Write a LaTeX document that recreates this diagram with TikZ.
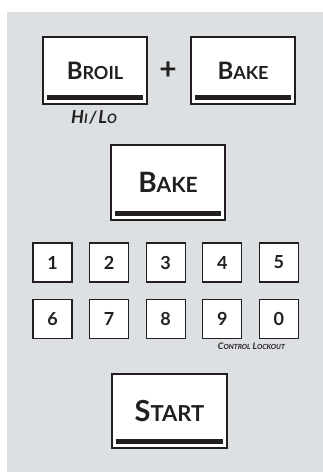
\documentclass[tikz,border=0pt]{standalone}
\usepackage{fontspec}
\setmainfont{Lato}
\usetikzlibrary{positioning}

\definecolor{panelgray}{RGB}{221,224,227}
\definecolor{ink}{RGB}{35,31,32}

% fake small caps: big initial, smaller rest
\newcommand{\sck}[4]{{\fontsize{#1}{#1}\selectfont #3}{\fontsize{#2}{#2}\selectfont #4}}

\begin{document}
\begin{tikzpicture}[
  x=1pt, y=-1pt,
  bigkey/.style={draw=ink, line width=1.5pt, fill=white, text=ink,
                 minimum width=#1, inner sep=0pt, font=\bfseries,
                 path picture={\fill[ink]
                   ([shift={(4pt,4.5pt)}]path picture bounding box.south west)
                   rectangle
                   ([shift={(-4pt,9pt)}]path picture bounding box.south east);}},
  bigkey/.default=104pt,
  numkey/.style={draw=ink, line width=1.3pt, fill=white, text=ink,
                 minimum size=39pt, inner sep=0pt,
                 font=\bfseries\fontsize{18}{18}\selectfont},
  note/.style={text=ink, inner sep=0pt, font=\bfseries\itshape}
]

%% ── Panel backdrop ───────────────────────────────────────────────────────────
\useasboundingbox (0,0) rectangle (323,472);
\fill[panelgray] (7,12) rectangle (323,472);

%% ── Broil + Bake ─────────────────────────────────────────────────────────────
\node[bigkey, minimum height=67pt] (broil)   at (95,70.5)  {\sck{24}{18}{B}{ROIL}};
\node[bigkey, minimum height=67pt] (bakeone) at (243,70.5) {\sck{24}{18}{B}{AKE}};
\node[text=ink, inner sep=0pt, font=\bfseries\fontsize{30}{30}\selectfont]
  (plus) at (168,71) {+};
\node[note] (hilo) at (94,117)
  {\sck{18}{13}{H}{I}\,{\fontsize{17}{17}\selectfont/}\,\sck{18}{13}{L}{O}};

%% ── Bake alone ───────────────────────────────────────────────────────────────
\node[bigkey=114pt, minimum height=75pt] (baketwo) at (168,182.5)
  {\sck{28}{21}{B}{AKE}};

%% ── Number pad ───────────────────────────────────────────────────────────────
\foreach \d [count=\i from 0] in {1,2,3,4,5}
  \node[numkey] (key\d) at (52.5+56.6*\i,262.5) {\d};
\foreach \d [count=\i from 0] in {6,7,8,9,0}
  \node[numkey] (key\d) at (52.5+56.6*\i,319) {\d};
\node[note, below=3.5pt of key9.south east, xshift=9pt] (lockout)
  {\sck{9}{7}{C}{ONTROL} \sck{9}{7}{L}{OCKOUT}};

%% ── Start ────────────────────────────────────────────────────────────────────
\node[bigkey=115pt, minimum height=74pt] (start) at (169.5,411)
  {\sck{29}{22}{S}{TART}};

\end{tikzpicture}
\end{document}
